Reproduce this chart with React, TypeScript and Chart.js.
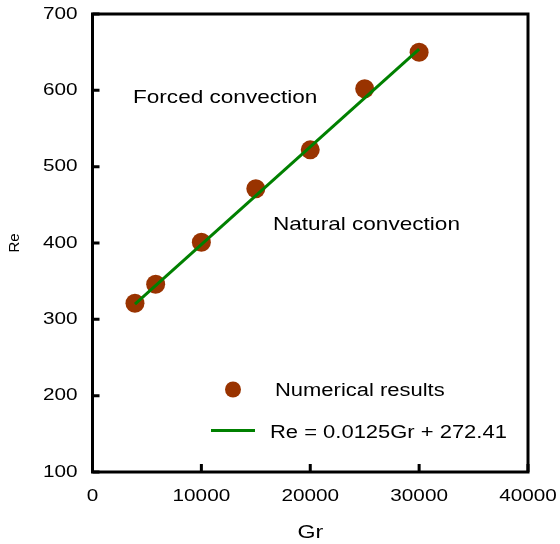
import React, { useEffect, useRef } from "react";
import { Chart, registerables } from "chart.js";

Chart.register(...registerables);

// ---- data ----
const grValues = [3900, 5800, 10000, 15000, 20000, 25000, 30000];
const reValues = [321, 346, 401, 471, 522, 602, 650];
const fitGr = [3900, 30000];
const fitRe = [320, 654];
const xTickValues = [0, 10000, 20000, 30000, 40000];
const yTickValues = [100, 200, 300, 400, 500, 600, 700];
const seriesLabels = ["Numerical results", "Re = 0.0125Gr + 272.41"];
const regionLabels = ["Forced convection", "Natural convection"];
const xTitle = "Gr";
const yTitle = "Re";

const FONT = "'Liberation Sans', Arial, sans-serif";
const SX = 1.22;
const DOT = "#993300";
const GREEN = "#008000";

function stretchText(ctx: CanvasRenderingContext2D) {
  const orig = ctx.fillText.bind(ctx);
  (ctx as any).fillText = (text: string, x: number, y: number) => {
    const t = ctx.getTransform();
    if (Math.abs(t.b) > 1e-6 || Math.abs(t.c) > 1e-6) {
      orig(text, x, y);
      return;
    }
    ctx.save();
    ctx.translate(x, y);
    ctx.scale(SX, 1);
    orig(text, 0, 0);
    ctx.restore();
  };
}

const framePlugin = {
  id: "frame",
  afterDraw(chart: any) {
    const { ctx, chartArea } = chart;
    const { left, right, top, bottom } = chartArea;
    const xs = chart.scales.x;
    const ys = chart.scales.y;
    ctx.save();
    ctx.strokeStyle = "#000";
    ctx.lineWidth = 3;
    ctx.lineCap = "square";
    ctx.strokeRect(left, top, right - left, bottom - top);
    ctx.lineCap = "butt";
    ctx.beginPath();
    yTickValues.forEach((v) => {
      const py = ys.getPixelForValue(v);
      ctx.moveTo(left, py);
      ctx.lineTo(left + 7, py);
    });
    xTickValues.forEach((v) => {
      const px = xs.getPixelForValue(v);
      ctx.moveTo(px, bottom);
      ctx.lineTo(px, bottom - 8);
    });
    ctx.stroke();

    // region labels
    ctx.fillStyle = "#000";
    ctx.font = `18.5px ${FONT}`;
    ctx.textAlign = "left";
    ctx.textBaseline = "alphabetic";
    ctx.fillText(regionLabels[0], 133, 103);
    ctx.fillText(regionLabels[1], 273, 230);

    // legend
    ctx.fillStyle = DOT;
    ctx.beginPath();
    ctx.arc(233, 389.5, 8, 0, Math.PI * 2);
    ctx.fill();
    ctx.strokeStyle = GREEN;
    ctx.lineWidth = 3;
    ctx.beginPath();
    ctx.moveTo(211, 430.5);
    ctx.lineTo(255, 430.5);
    ctx.stroke();
    ctx.fillStyle = "#000";
    ctx.font = `18px ${FONT}`;
    ctx.fillText(seriesLabels[0], 275, 395.5);
    ctx.fillText(seriesLabels[1], 270, 438);
    ctx.restore();
  },
};

export default function App() {
  const ref = useRef<HTMLCanvasElement | null>(null);
  useEffect(() => {
    const canvas = ref.current;
    if (!canvas) return;
    const ctx = canvas.getContext("2d") as CanvasRenderingContext2D;
    stretchText(ctx);
    const chart = new Chart(ctx, {
      type: "scatter",
      data: {
        datasets: [
          {
            type: "line",
            label: seriesLabels[1],
            data: fitGr.map((x, i) => ({ x, y: fitRe[i] })),
            borderColor: GREEN,
            backgroundColor: GREEN,
            borderWidth: 3,
            pointRadius: 0,
            fill: false,
            order: 0,
          } as any,
          {
            type: "scatter",
            label: seriesLabels[0],
            data: grValues.map((x, i) => ({ x, y: reValues[i] })),
            backgroundColor: DOT,
            borderWidth: 0,
            pointRadius: 9.5,
            order: 1,
          },
        ],
      },
      options: {
        responsive: false,
        animation: false,
        devicePixelRatio: 1,
        layout: { padding: { top: 14, right: 32, left: 0, bottom: 0 } },
        plugins: {
          legend: { display: false },
          tooltip: { enabled: false },
        },
        scales: {
          x: {
            type: "linear",
            min: 0,
            max: 40000,
            afterFit: (s: any) => {
              s.height = 72;
              s.paddingLeft = 0;
              s.paddingRight = 0;
              s.paddingTop = 0;
              s.paddingBottom = 0;
            },
            afterBuildTicks: (s: any) => {
              s.ticks = xTickValues.map((v) => ({ value: v }));
            },
            ticks: {
              stepSize: 10000,
              maxRotation: 0,
              autoSkip: false,
              color: "#000",
              padding: 14,
              font: { family: FONT, size: 17 },
              callback: (v: any) => String(v),
            },
            grid: { display: false, drawTicks: false },
            border: { display: false },
            title: {
              display: true,
              text: xTitle,
              color: "#000",
              font: { family: FONT, size: 19 },
              padding: { top: 0, bottom: 0 },
            },
          },
          y: {
            type: "linear",
            min: 100,
            max: 700,
            afterFit: (s: any) => {
              s.width = 92.5;
              s.paddingLeft = 0;
              s.paddingRight = 0;
              s.paddingTop = 0;
              s.paddingBottom = 0;
            },
            afterBuildTicks: (s: any) => {
              s.ticks = yTickValues.map((v) => ({ value: v }));
            },
            ticks: {
              stepSize: 100,
              autoSkip: false,
              color: "#000",
              padding: 15,
              font: { family: FONT, size: 17 },
              callback: (v: any) => String(v),
            },
            grid: { display: false, drawTicks: false },
            border: { display: false },
            title: {
              display: true,
              text: yTitle,
              color: "#000",
              font: { family: FONT, size: 15 },
              padding: { top: 5.5, bottom: 0 },
            },
          },
        },
      },
      plugins: [framePlugin],
    });
    return () => chart.destroy();
  }, []);

  return (
    <div style={{ position: "fixed", left: 0, top: 0, width: 560, height: 544, background: "#fff" }}>
      <canvas ref={ref} width={560} height={544} style={{ display: "block" }} />
    </div>
  );
}
